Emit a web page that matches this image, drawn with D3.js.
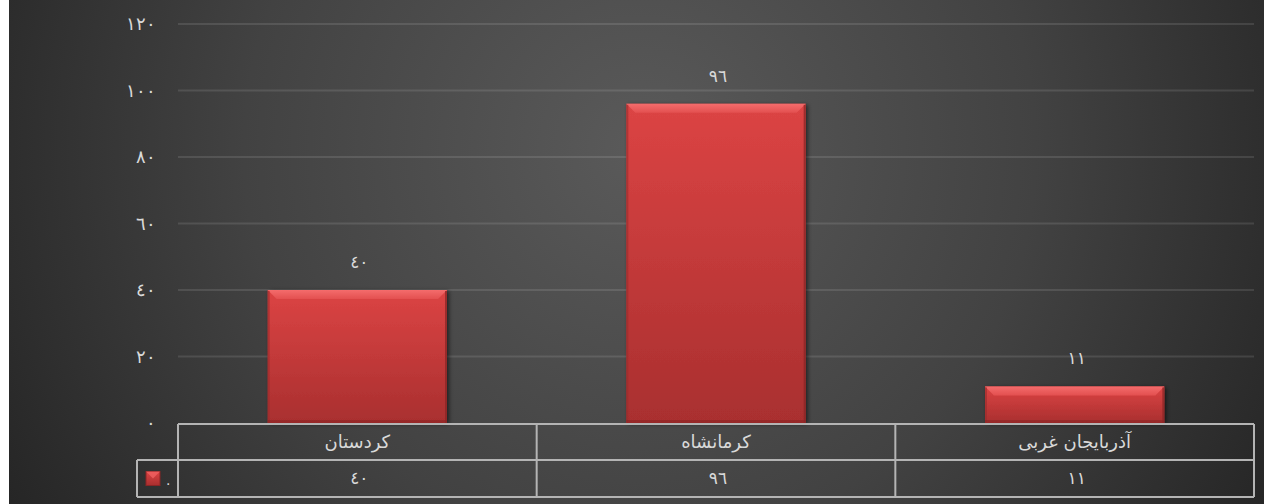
<!DOCTYPE html>
<html lang="fa">
<head>
<meta charset="utf-8">
<title>نمودار استان‌ها</title>
<script src="https://cdn.jsdelivr.net/npm/d3@7"></script>
<style>
  html, body { margin: 0; padding: 0; background: #fff; }
  svg { display: block; font-family: "DejaVu Sans", "Liberation Sans", sans-serif; }
  .lbl { fill: #d9d9d9; }
</style>
</head>
<body>
<svg id="chart" width="1264" height="504"></svg>
<script>
// ============================================================
// DATI
// ============================================================
const categories = ["کردستان", "کرمانشاه", "آذربایجان غربی"];
const values = [40, 96, 11];
const yTicks = [0, 20, 40, 60, 80, 100, 120];
const seriesName = ".";

// cifre arabo-indiche come nel grafico originale
const toArabicDigits = (n) =>
  String(n).replace(/[0-9]/g, (c) => String.fromCharCode(0x0660 + +c));

const W = 1264, H = 504;
const plot = { left: 178, right: 1254, top: 24, bottom: 423 };
const row1 = { top: 424, bottom: 460 };
const row2 = { top: 460, bottom: 497 };
const legendLeft = 137;

const svg = d3.select("#chart");
const defs = svg.append("defs");

// sfondo: gradiente radiale scuro
const bg = defs.append("radialGradient")
  .attr("id", "bg").attr("gradientUnits", "userSpaceOnUse")
  .attr("cx", 640).attr("cy", 150).attr("r", 720);
bg.append("stop").attr("offset", "0").attr("stop-color", "#5a5a5a");
bg.append("stop").attr("offset", "0.55").attr("stop-color", "#424242");
bg.append("stop").attr("offset", "1").attr("stop-color", "#262626");

// riempimento barre
const barGrad = defs.append("linearGradient")
  .attr("id", "barFill").attr("x1", 0).attr("y1", 0).attr("x2", 0).attr("y2", 1);
barGrad.append("stop").attr("offset", "0").attr("stop-color", "#dc4444");
barGrad.append("stop").attr("offset", "1").attr("stop-color", "#a92f2f");

// smusso superiore
const bevGrad = defs.append("linearGradient")
  .attr("id", "bevFill").attr("x1", 0).attr("y1", 0).attr("x2", 0).attr("y2", 1);
bevGrad.append("stop").attr("offset", "0").attr("stop-color", "#f46c6c");
bevGrad.append("stop").attr("offset", "1").attr("stop-color", "#e35050");

const shadow = defs.append("filter").attr("id", "shadow")
  .attr("x", "-10%").attr("y", "-10%").attr("width", "130%").attr("height", "130%");
shadow.append("feDropShadow")
  .attr("dx", 2).attr("dy", 1).attr("stdDeviation", 2)
  .attr("flood-color", "#000").attr("flood-opacity", 0.55);

svg.append("rect").attr("x", 9).attr("y", 0)
  .attr("width", W - 9).attr("height", H).attr("fill", "url(#bg)");

// ============================================================
// SCALE
// ============================================================
const x = d3.scaleBand()
  .domain(categories)
  .range([plot.left, plot.right])
  .paddingInner(0.5)
  .paddingOuter(0.25);

const y = d3.scaleLinear()
  .domain([0, d3.max(yTicks)])
  .range([plot.bottom, plot.top]);

// griglia orizzontale (senza la linea dello zero, coperta dalla tabella)
svg.append("g").selectAll("line")
  .data(yTicks.filter((t) => t > 0))
  .join("line")
  .attr("x1", plot.left).attr("x2", plot.right)
  .attr("y1", (d) => y(d)).attr("y2", (d) => y(d))
  .attr("stroke", "rgba(255,255,255,0.11)")
  .attr("stroke-width", 2);

// asse Y: solo etichette
const yAxis = d3.axisLeft(y)
  .tickValues(yTicks)
  .tickFormat(toArabicDigits)
  .tickSize(0)
  .tickPadding(0);
const gy = svg.append("g")
  .attr("transform", `translate(${plot.left - 22},0)`)
  .call(yAxis);
gy.select(".domain").remove();
gy.selectAll("text")
  .attr("class", "lbl")
  .attr("font-size", 18)
  .attr("letter-spacing", 5)
  .attr("dy", "0.32em");

// ============================================================
// BARRE con effetto smussato
// ============================================================
const bars = svg.append("g").selectAll("g")
  .data(categories.map((c, i) => ({ cat: c, val: values[i] })))
  .join("g");

bars.append("rect")
  .attr("x", (d) => x(d.cat))
  .attr("y", (d) => y(d.val))
  .attr("width", x.bandwidth())
  .attr("height", (d) => y(0) - y(d.val))
  .attr("fill", "url(#barFill)")
  .attr("filter", "url(#shadow)");

const bev = 9;
// bordo superiore chiaro
bars.append("polygon")
  .attr("points", (d) => {
    const x0 = x(d.cat), x1 = x0 + x.bandwidth(), t = y(d.val);
    return [[x0, t], [x1, t], [x1 - bev, t + bev], [x0 + bev, t + bev]].join(" ");
  })
  .attr("fill", "url(#bevFill)");
// lati scuri, sottili
bars.append("rect")
  .attr("x", (d) => x(d.cat))
  .attr("y", (d) => y(d.val) + 1)
  .attr("width", 2)
  .attr("height", (d) => y(0) - y(d.val) - 1)
  .attr("fill", "#9a2b2b").attr("opacity", 0.6);
bars.append("rect")
  .attr("x", (d) => x(d.cat) + x.bandwidth() - 2)
  .attr("y", (d) => y(d.val) + 1)
  .attr("width", 2)
  .attr("height", (d) => y(0) - y(d.val) - 1)
  .attr("fill", "#8a2525").attr("opacity", 0.75);
bars.append("rect")
  .attr("x", (d) => x(d.cat))
  .attr("y", y(0) - 3)
  .attr("width", x.bandwidth())
  .attr("height", 3)
  .attr("fill", "#8a2525").attr("opacity", 0.6);

// etichette valori
bars.append("text")
  .attr("class", "lbl")
  .attr("x", (d) => x(d.cat) + x.bandwidth() / 2 + 2)
  .attr("y", (d) => y(d.val) - 28)
  .attr("dy", "0.35em")
  .attr("text-anchor", "middle")
  .attr("font-size", 17)
  .attr("letter-spacing", 4)
  .text((d) => toArabicDigits(d.val));

// ============================================================
// TABELLA DATI sotto l'asse
// ============================================================
const table = svg.append("g")
  .attr("fill", "none")
  .attr("stroke", "#b4b4b4")
  .attr("stroke-width", 2);

table.append("line")
  .attr("x1", plot.left).attr("x2", plot.right)
  .attr("y1", row1.top).attr("y2", row1.top);
table.append("line")
  .attr("x1", legendLeft).attr("x2", plot.right)
  .attr("y1", row2.top).attr("y2", row2.top);
table.append("line")
  .attr("x1", legendLeft).attr("x2", plot.right)
  .attr("y1", row2.bottom).attr("y2", row2.bottom);
table.append("line")
  .attr("x1", legendLeft).attr("x2", legendLeft)
  .attr("y1", row2.top).attr("y2", row2.bottom);

const colEdges = d3.range(categories.length + 1)
  .map((i) => plot.left + i * x.step());
table.selectAll(".vline")
  .data(colEdges)
  .join("line")
  .attr("x1", (d) => d).attr("x2", (d) => d)
  .attr("y1", row1.top).attr("y2", row2.bottom);

svg.append("g").selectAll("text")
  .data(categories)
  .join("text")
  .attr("class", "lbl")
  .attr("x", (d) => x(d) + x.bandwidth() / 2)
  .attr("y", (row1.top + row1.bottom) / 2)
  .attr("dy", "0.35em")
  .attr("text-anchor", "middle")
  .attr("font-size", 18)
  .text((d) => d);

svg.append("g").selectAll("text")
  .data(values)
  .join("text")
  .attr("class", "lbl")
  .attr("x", (d, i) => x(categories[i]) + x.bandwidth() / 2 + 2)
  .attr("y", (row2.top + row2.bottom) / 2)
  .attr("dy", "0.35em")
  .attr("text-anchor", "middle")
  .attr("font-size", 17)
  .attr("letter-spacing", 4)
  .text((d) => toArabicDigits(d));

// chiave legenda
const keyY = (row2.top + row2.bottom) / 2 - 7;
svg.append("rect")
  .attr("x", 146).attr("y", keyY)
  .attr("width", 14).attr("height", 14)
  .attr("fill", "url(#barFill)")
  .attr("stroke", "#8a2525").attr("stroke-width", 1);
svg.append("polygon")
  .attr("points", [[146, keyY], [160, keyY], [153, keyY + 7]].join(" "))
  .attr("fill", "#f06262").attr("opacity", 0.8);
svg.append("text")
  .attr("class", "lbl")
  .attr("x", 166).attr("y", keyY + 13)
  .attr("font-size", 14)
  .text(seriesName);
</script>
</body>
</html>
